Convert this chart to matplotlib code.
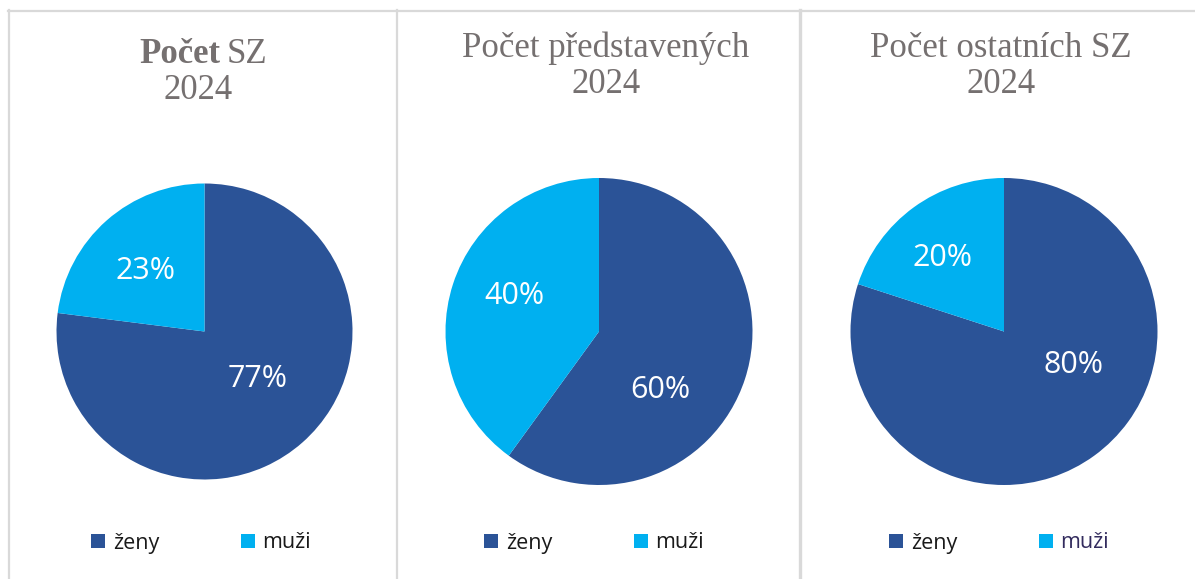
import matplotlib
matplotlib.use('Agg')
import matplotlib.pyplot as plt
from matplotlib.lines import Line2D

# data
CATEGORIES = ['ženy', 'muži']
TITLES = [('Počet', 'SZ'), ('Počet představených', None), ('Počet ostatních SZ', None)]
YEAR = '2024'
SZ_VALUES = [77, 23]
PREDSTAVENI_VALUES = [60, 40]
OSTATNI_VALUES = [80, 20]
ALL_VALUES = [SZ_VALUES, PREDSTAVENI_VALUES, OSTATNI_VALUES]

# style / layout
W, H = 1195, 579
COLORS = ['#2B5397', '#00B0F0']
TITLE_COLOR = '#757070'
BORDER_COLOR = '#D9D9D9'
PIE_CENTERS = [(204.5, 331.5), (599, 331.5), (1004, 331.5)]
PIE_RADII = [148, 153.5, 153.5]
TITLE_BASELINES = [(63, 99), (57, 93), (57, 93)]
TITLE_CENTERS = [198, 606, 1001]
LEGEND_CENTERS = [201, 594, 999]
LEGEND_Y = 543
# label anchor offsets in pie-radius units (x right, y up), per wedge
LABEL_OFFSETS = [[(0.36, -0.32), (-0.40, 0.41)],
                 [(0.40, -0.38), (-0.55, 0.23)],
                 [(0.45, -0.22), (-0.40, 0.48)]]
LEGEND_TEXT_COLORS = [['#1A1A1A', '#1A1A1A'], ['#1A1A1A', '#1A1A1A'], ['#1A1A1A', '#332C5E']]

fig = plt.figure(figsize=(W / 100, H / 100), dpi=100)
fig.patch.set_facecolor('white')

# panel borders
def fig_line(x0, y0, x1, y1, lw):
    fig.add_artist(Line2D([x0 / W, x1 / W], [1 - y0 / H, 1 - y1 / H],
                          color=BORDER_COLOR, linewidth=lw, transform=fig.transFigure))

fig_line(8, 10.5, W, 10.5, 1.6)
fig_line(9, 10, 9, H, 1.6)
fig_line(397, 10, 397, H, 1.6)
fig_line(800, 10, 800, H, 2.4)

for i, values in enumerate(ALL_VALUES):
    cx, cy = PIE_CENTERS[i]
    r = PIE_RADII[i]
    ax = fig.add_axes([(cx - r) / W, 1 - (cy + r) / H, 2 * r / W, 2 * r / H])
    wedges, texts, autotexts = ax.pie(
        values, colors=COLORS, startangle=90, counterclock=False,
        wedgeprops=dict(linewidth=0), autopct='%.0f%%', pctdistance=0.55,
        textprops=dict(color='white', fontsize=22, family='Open Sans'))
    for t, (dx, dy) in zip(autotexts, LABEL_OFFSETS[i]):
        t.set_position((dx, dy))
    ax.set_xlim(-1, 1)
    ax.set_ylim(-1, 1)
    ax.set_aspect('equal')

    leg = ax.legend(wedges, CATEGORIES, loc='center', ncol=2,
                    bbox_to_anchor=(LEGEND_CENTERS[i] / W, 1 - LEGEND_Y / H),
                    bbox_transform=fig.transFigure, frameon=False,
                    prop=dict(family='Open Sans', size=15.5),
                    handlelength=0.65, handleheight=0.65, handletextpad=0.35,
                    columnspacing=3.8)
    for txt, c in zip(leg.get_texts(), LEGEND_TEXT_COLORS[i]):
        txt.set_color(c)

    # titles
    b1, b2 = TITLE_BASELINES[i]
    tx = TITLE_CENTERS[i]
    main, extra = TITLES[i]
    title_font = dict(family='Liberation Serif', size=25, color=TITLE_COLOR, va='baseline')
    if extra is None:
        fig.text(tx / W, 1 - b1 / H, main, ha='center', **title_font)
    else:
        fig.text((tx + 22) / W, 1 - b1 / H, main, ha='right', fontweight='bold', **title_font)
        fig.text((tx + 29) / W, 1 - b1 / H, extra, ha='left', **title_font)
    fig.text(tx / W, 1 - b2 / H, YEAR, ha='center', **title_font)

plt.savefig('out.png', dpi=100)
plt.close()
